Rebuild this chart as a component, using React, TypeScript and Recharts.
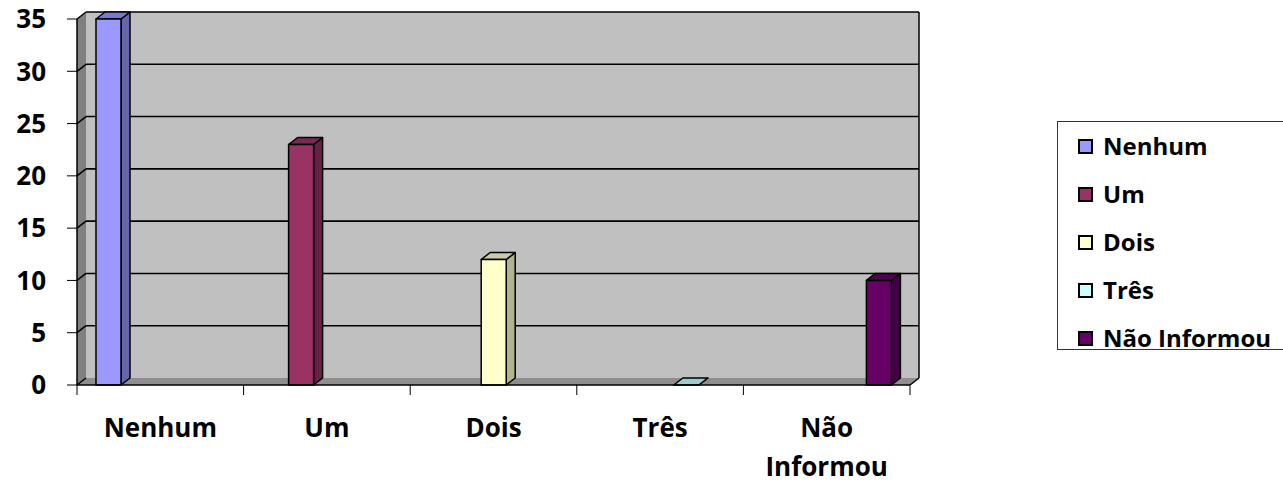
import { BarChart, Bar, XAxis, YAxis, CartesianGrid, Legend } from 'recharts';

const categories = ['Nenhum', 'Um', 'Dois', 'Três', 'Não Informou'];
const counts = [35, 23, 12, 0, 10];
const yTicks = [0, 5, 10, 15, 20, 25, 30, 35];

const frontColors = ['#9999FF', '#993366', '#FFFFCC', '#CCFFFF', '#660066'];
const topColors = ['#7A7ACC', '#7A2952', '#CCCCA3', '#99CCCC', '#520052'];
const sideColors = ['#6666AA', '#662244', '#B3B38F', '#88B3B3', '#440044'];

// one row per category, only the matching series gets a value
const data = categories.map((name, i) => {
    const row: Record<string, any> = { name };
    categories.forEach((_, j) => {
        row['s' + j] = i === j ? counts[i] : null;
    });
    return row;
});

const FONT = '"Open Sans", sans-serif';
const DX = 9; // 3d depth
const DY = 7;

// walls + floor are drawn with the first grid line, then each line goes on the back wall
const GridLine = (props: any) => {
    const { x1, y1, x2, index, x, y, width, height } = props;
    const bottom = y + height;
    const isFloor = Math.abs(y1 - bottom) < 0.5;
    return (
        <g key={props.key}>
            {index === 0 && (
                <g>
                    <rect x={x + DX} y={y - DY} width={width} height={height} fill="#C0C0C0" />
                    <polygon
                        points={`${x},${y} ${x + DX},${y - DY} ${x + DX},${bottom - DY} ${x},${bottom}`}
                        fill="#808080"
                    />
                    <polygon
                        points={`${x},${bottom} ${x + DX},${bottom - DY} ${x + width + DX},${bottom - DY} ${x + width},${bottom}`}
                        fill="#8E8E8E"
                    />
                    <line x1={x + width + DX} y1={y - DY} x2={x + width + DX} y2={bottom - DY} stroke="#000" strokeWidth={1.5} />
                    <line x1={x + width} y1={bottom} x2={x + width + DX} y2={bottom - DY} stroke="#000" strokeWidth={1.5} />
                </g>
            )}
            {!isFloor && (
                <line x1={x1 + DX} y1={y1 - DY} x2={x2 + DX} y2={y1 - DY} stroke="#000" strokeWidth={1.6} />
            )}
            <line x1={x1} y1={y1} x2={x1 + DX} y2={y1 - DY} stroke="#000" strokeWidth={1.5} />
        </g>
    );
};

const makeBox = (j: number) => (props: any) => {
    const { x, y, width, height, payload } = props;
    if (!payload || payload['s' + j] == null) return <g />;
    const w = width - 1;
    const h = Math.max(height, 0);
    return (
        <g stroke="#000" strokeWidth={1.5} strokeLinejoin="round">
            <polygon
                points={`${x + w},${y} ${x + w + DX},${y - DY} ${x + w + DX},${y + h - DY} ${x + w},${y + h}`}
                fill={sideColors[j]}
            />
            <polygon
                points={`${x},${y} ${x + DX},${y - DY} ${x + w + DX},${y - DY} ${x + w},${y}`}
                fill={topColors[j]}
            />
            {h > 0 && <rect x={x} y={y} width={w} height={h} fill={frontColors[j]} />}
        </g>
    );
};

const CategoryTick = (props: any) => {
    const { x, y, payload, index } = props;
    const half = payload && payload.offset ? payload.offset : 83;
    const lines = String(payload.value).split(' ');
    return (
        <g>
            <line x1={x - half} y1={y} x2={x - half} y2={y + 10} stroke="#000" strokeWidth={1} />
            {index === categories.length - 1 && (
                <line x1={x + half} y1={y} x2={x + half} y2={y + 10} stroke="#000" strokeWidth={1} />
            )}
            <text textAnchor="middle" fill="#000" fontFamily={FONT} fontWeight={700} fontSize={26}>
                {lines.map((t, i) => (
                    <tspan key={t} x={x} y={y + 52 + i * 39}>{t}</tspan>
                ))}
            </text>
        </g>
    );
};

const LegendBox = () => (
    <div
        style={{
            width: 227,
            height: 229,
            border: '1px solid #333',
            boxSizing: 'border-box',
            background: '#fff',
            fontFamily: FONT,
            fontWeight: 700,
            fontSize: 24,
            color: '#000',
        }}
    >
        {categories.map((c, i) => (
            <div key={c} style={{ height: 48, display: 'flex', alignItems: 'center', paddingLeft: 20 }}>
                <span
                    style={{
                        width: 15,
                        height: 15,
                        border: '2px solid #000',
                        boxSizing: 'border-box',
                        background: frontColors[i],
                        marginRight: 10,
                        flexShrink: 0,
                    }}
                />
                <span style={{ lineHeight: '48px', whiteSpace: 'nowrap' }}>{c}</span>
            </div>
        ))}
    </div>
);

export default function App() {
    return (
        <div style={{ position: 'absolute', left: 0, top: 0, width: 1283, height: 483, overflow: 'hidden', background: '#fff' }}>
            <BarChart
                width={1283}
                height={483}
                data={data}
                margin={{ top: 19, right: 373, bottom: 0, left: 0 }}
                barCategoryGap={19}
                barGap={0}
            >
                <CartesianGrid vertical={false} horizontal={GridLine} />
                <XAxis
                    dataKey="name"
                    height={98}
                    axisLine={{ stroke: '#000', strokeWidth: 1.5 }}
                    tickLine={false}
                    tickSize={0}
                    tickMargin={0}
                    interval={0}
                    tick={CategoryTick}
                />
                <YAxis
                    width={77}
                    domain={[0, 35]}
                    ticks={yTicks}
                    interval={0}
                    axisLine={{ stroke: '#000', strokeWidth: 1.5 }}
                    tickLine={{ stroke: '#000', strokeWidth: 1 }}
                    tickSize={10}
                    tickMargin={21}
                    tick={{ fill: '#000', fontSize: 26, fontWeight: 700, fontFamily: FONT }}
                />
                <Legend
                    layout="vertical"
                    align="center"
                    verticalAlign="middle"
                    content={LegendBox}
                    wrapperStyle={{ left: 1057, top: 121, width: 227, height: 229 }}
                />
                {categories.map((c, j) => (
                    <Bar
                        key={c}
                        dataKey={'s' + j}
                        name={c}
                        fill={frontColors[j]}
                        shape={makeBox(j)}
                        isAnimationActive={false}
                    />
                ))}
            </BarChart>
        </div>
    );
}
